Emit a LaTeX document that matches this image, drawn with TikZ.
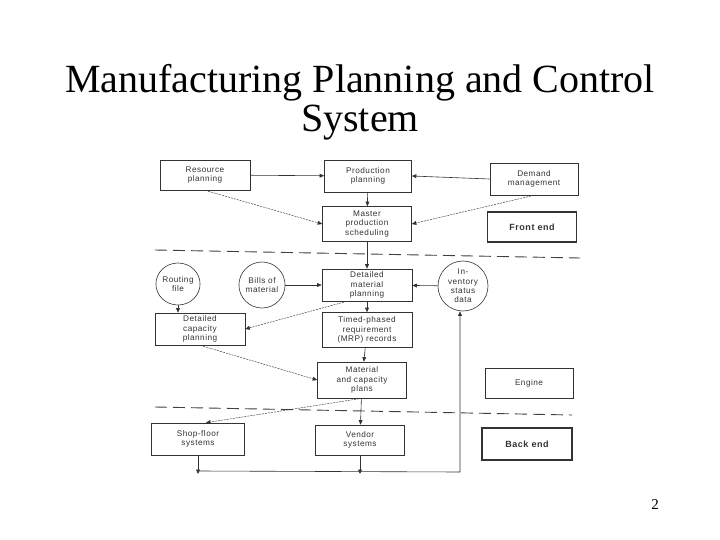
\documentclass[tikz,border=0pt]{standalone}
\usepackage{fontspec}
\setmainfont{Liberation Serif}
\newfontfamily\boxfont{Liberation Sans}[LetterSpace=6]
\usetikzlibrary{arrows.meta,shapes.geometric}
\begin{document}
\begin{tikzpicture}[x=1pt,y=-1pt,
  ln/.style={draw=black!80, line width=0.6pt},
  box/.style={ln, rectangle, align=center, inner sep=0pt, text=black!80,
    font=\boxfont\fontsize{8.2}{9.6}\selectfont},
  thick box/.style={box, line width=1.2pt, font=\boxfont\bfseries\fontsize{9}{11}\selectfont},
  oval/.style={ln, ellipse, align=center, inner sep=0pt, text=black!80,
    font=\boxfont\fontsize{8.2}{9.4}\selectfont},
  arr/.style={draw=black!80, line width=0.6pt, -{Triangle[length=4.5pt,width=3.8pt]}},
  darr/.style={arr, line width=0.45pt, dash pattern=on 2pt off 1pt},
  divider/.style={draw=black!75, line width=0.9pt, dash pattern=on 12pt off 6pt},
  ttl/.style={font=\fontsize{40}{40}\selectfont, anchor=base, inner sep=0pt}]
\useasboundingbox (0,0) rectangle (720,540);
\fill[white] (0,0) rectangle (720,540);
% title
\node[ttl] (title1) at (360,93) {Manufacturing Planning and Control};
\node[ttl] (title2) at (360,132) {System};
\node[font=\fontsize{15}{17}\selectfont] (pg) at (655,505) {2};
% front end
\node[box, minimum width=90, minimum height=30] (rp) at (205,175) {Resource\\planning};
\node[box, minimum width=87, minimum height=32] (pp) at (368,176) {Production\\planning};
\node[box, minimum width=88, minimum height=32] (dm) at (534,179) {Demand\\management};
\node[box, minimum width=89, minimum height=35] (mps) at (367,224) {Master\\production\\scheduling};
\node[thick box, minimum width=89, minimum height=30] (fe) at (532,227) {Front end};
% engine
\node[oval, minimum width=44, minimum height=42] (rf) at (178,284) {Routing\\file};
\node[oval, minimum width=46, minimum height=46] (bom) at (262,285) {Bills of\\material};
\node[oval, minimum width=50, minimum height=50] (inv) at (463,286) {In-\\ventory\\status\\data};
\node[box, minimum width=90, minimum height=32] (dmp) at (367,285) {Detailed\\material\\planning};
\node[box, minimum width=90, minimum height=32] (dcp) at (200,329) {Detailed\\capacity\\planning};
\node[box, minimum width=90, minimum height=35] (tpr) at (367,330) {Timed-phased\\requirement\\(MRP) records};
\node[box, minimum width=89, minimum height=36] (mcp) at (362,380) {Material\\and capacity\\plans};
\node[box, minimum width=88, minimum height=30] (eng) at (529,383) {Engine};
% back end
\node[box, minimum width=93, minimum height=32] (sf) at (198,439) {Shop-floor\\systems};
\node[box, minimum width=89, minimum height=30] (vs) at (360,440) {Vendor\\systems};
\node[thick box, minimum width=90, minimum height=32] (be) at (527,444) {Back end};
% dividers
\coordinate (d1a) at (155,250); \coordinate (d1b) at (580,258);
\coordinate (d2a) at (155,407); \coordinate (d2b) at (572,415);
\draw[divider] (d1a) -- (d1b);
\draw[divider] (d2a) -- (d2b);
% connectors
\draw[arr] (rp) -- (pp);
\draw[arr] (dm.west) -- (pp.east);
\draw[arr] (pp) -- (mps);
\draw[darr] (rp.south) -- (mps.west);
\draw[darr] (dm.south) -- (mps.east);
\draw[arr] (mps) -- (dmp);
\draw[arr] (bom) -- (dmp);
\draw[arr] (inv) -- (dmp);
\draw[arr] (rf.south) -- (rf.south |- dcp.north);
\draw[darr] ([xshift=-20pt]dmp.south) -- (dcp.east);
\draw[arr] (dmp) -- (tpr);
\draw[arr] (tpr) -- (mcp);
\draw[darr] (dcp.south) -- (mcp.west);
\draw[darr] (mcp.south) -- ([xshift=8pt]sf.north);
\draw[arr] (mcp) -- (vs);
% feedback
\coordinate (fb1) at (198,471);
\coordinate (fb2) at (460,472);
\draw[arr] (sf.south) -- ([yshift=-3pt]sf.south |- fb1);
\draw[arr] (vs.south) -- ([yshift=-3pt]vs.south |- fb1);
\draw[arr] (fb1) -- (fb2) -- (fb2 |- inv.south);
\end{tikzpicture}
\end{document}
